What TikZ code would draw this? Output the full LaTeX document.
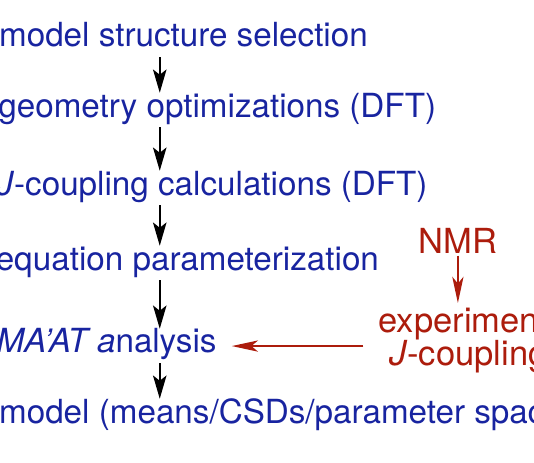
\documentclass[tikz,border=0pt]{standalone}
\usepackage{fontspec}
\setmainfont{TeX Gyre Heros}
\usepackage{tikz}
\usetikzlibrary{positioning,arrows.meta,calc}
\definecolor{stageblue}{RGB}{24,36,160}
\definecolor{nmrred}{RGB}{172,28,12}

\begin{document}
\begin{tikzpicture}[
        stage/.style={anchor=base west, text=stageblue, inner xsep=0pt, inner ysep=0.08cm, text height=0.56cm, text depth=0.19cm, font=\fontsize{25.2}{26}\selectfont},
        expt/.style={text=nmrred, inner sep=0pt, align=center, font=\fontsize{26.2}{25}\selectfont},
        flow/.style={-{Stealth[length=0.62cm, width=0.36cm, inset=0.14cm]}, line width=1.3pt, black},
        feed/.style={-{Stealth[length=0.7cm, width=0.3cm, inset=0.18cm]}, line width=1.1pt, nmrred}
    ]
        \useasboundingbox (0,0) rectangle (14.24,-12.32);
        \clip (0,0) rectangle (14.24,-12.32);
        \coordinate (spine) at (4.26,0);

        % computational steps
        \node[stage] (sel) at (-0.03,-1.253) {model structure selection};
        \node[stage] (geo) at (-0.05,-3.12) {geometry optimizations (DFT)};
        \node[stage] (jdft) at (-0.1,-5.2) {\textit{J}-coupling calculations (DFT)};
        \node[stage] (eqn) at (-0.12,-7.2) {equation parameterization};
        \node[stage] (maat) at (-0.1,-9.413) {\textit{MA’AT a}nalysis};
        \node[stage] (mdl) at (-0.03,-11.28) {model (means/CSDs/parameter space)};

        \draw[flow] (sel.south -| spine) -- (geo.north -| spine);
        \draw[flow] (geo.south -| spine) -- (jdft.north -| spine);
        \draw[flow] (jdft.south -| spine) -- (eqn.north -| spine);
        \draw[flow] (eqn.south -| spine) -- (maat.north -| spine);
        \draw[flow] (maat.south -| spine) -- (mdl.north -| spine);

        % experimental input
        \node[expt, anchor=base] (nmr) at (12.21,-6.747) {NMR};
        \node[expt, anchor=north] (jexp) at (12.72,-8.2) {experimental\\\textit{J}-couplings};

        \draw[feed] ([yshift=-0.06cm]nmr.south) -- ([yshift=0.12cm]nmr.south |- jexp.north);
        \draw[feed, shorten <=0.4cm, shorten >=0.4cm] (jexp.west |- maat.center) -- (maat.east |- maat.center);
    \end{tikzpicture}
\end{document}
